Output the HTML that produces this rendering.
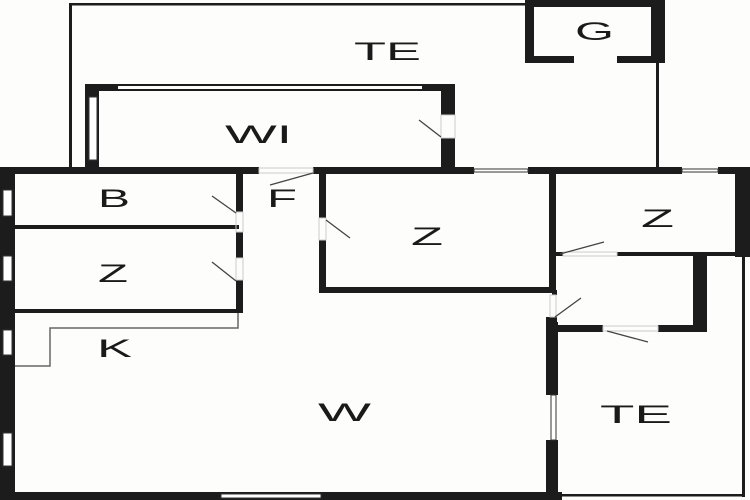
<!DOCTYPE html>
<html><head><meta charset="utf-8"><style>
html,body{margin:0;padding:0;background:#fdfdfb;}
svg{display:block;}
text{font-family:"Liberation Sans",sans-serif;font-size:25px;fill:#1a1a1a;}
</style></head><body>
<svg width="750" height="500" viewBox="0 0 750 500" xmlns="http://www.w3.org/2000/svg">
<rect width="750" height="500" fill="#fdfdfb"/>
<g fill="#1c1c1c">
<!-- outer TE thin -->
<rect x="69" y="3" width="460" height="2.5"/>
<rect x="69" y="3" width="3" height="167"/>
<rect x="656" y="60" width="3" height="110"/>
<!-- G -->
<rect x="525" y="0" width="140" height="7"/>
<rect x="525" y="0" width="9" height="62"/>
<rect x="651" y="0" width="14" height="62"/>
<rect x="525" y="56" width="49" height="7"/>
<rect x="617" y="56" width="48" height="7"/>
<!-- WI -->
<rect x="85" y="84" width="33" height="7"/>
<rect x="85" y="84" width="370" height="2"/>
<rect x="85" y="89" width="370" height="2"/>
<rect x="422" y="84" width="33" height="7"/>
<rect x="85" y="84" width="14" height="86"/>
<rect x="441" y="84" width="14" height="31"/>
<rect x="441" y="138" width="14" height="32"/>
<!-- main horizontal wall -->
<rect x="0" y="167" width="259" height="7"/>
<rect x="313" y="167" width="161" height="7"/>
<rect x="528" y="167" width="154" height="7"/>
<rect x="718" y="167" width="32" height="7"/>
<!-- left outer wall -->
<rect x="0" y="167" width="15" height="333"/>
<!-- bottom wall -->
<rect x="0" y="492" width="562" height="8"/>
<!-- right outer -->
<rect x="735" y="167" width="15" height="90"/>
<rect x="742" y="253" width="3" height="244"/>
<rect x="560" y="494" width="185" height="2.5"/>
<!-- B/Z column -->
<rect x="236" y="170" width="7" height="42"/>
<rect x="236" y="232" width="7" height="26"/>
<rect x="236" y="280" width="7" height="33"/>
<rect x="15" y="225" width="224" height="4"/>
<rect x="15" y="309" width="228" height="4"/>
<!-- middle Z -->
<rect x="319" y="170" width="7" height="48"/>
<rect x="319" y="240" width="7" height="53"/>
<rect x="319" y="287" width="237" height="6"/>
<rect x="549" y="170" width="7" height="123"/>
<!-- right section -->
<rect x="552" y="290" width="5" height="5"/>
<rect x="546" y="317" width="11" height="5"/>
<rect x="546" y="322" width="12" height="73"/>
<rect x="546" y="440" width="12" height="60"/>
<rect x="555" y="252" width="8" height="4"/>
<rect x="617" y="252" width="133" height="4"/>
<rect x="693" y="252" width="14" height="80"/>
<rect x="546" y="325" width="57" height="7"/>
<rect x="658" y="325" width="49" height="7"/>
</g>
<!-- windows (white with thin outlines) -->
<g fill="#fff" stroke="#333" stroke-width="1">
<rect x="3" y="190" width="9" height="26"/>
<rect x="3" y="256" width="9" height="25"/>
<rect x="3" y="330" width="9" height="25"/>
<rect x="3" y="433" width="9" height="33"/>
<rect x="89" y="97" width="8" height="63"/>
<rect x="221" y="494" width="100" height="4"/>
<rect x="551" y="395" width="5" height="45"/>
<rect x="474" y="169" width="54" height="3"/>
<rect x="682" y="169" width="36" height="3"/>
</g>
<g fill="none" stroke="#ccc" stroke-width="1">
<rect x="259" y="168" width="54" height="5"/>
<rect x="563" y="252" width="54" height="4"/>
<rect x="603" y="326" width="55" height="5"/>
<rect x="550" y="295" width="6" height="22"/>
<rect x="319" y="218" width="7" height="22"/>
<rect x="236" y="212" width="7" height="20"/>
<rect x="236" y="258" width="7" height="22"/>
<rect x="441" y="115" width="14" height="23"/>
</g>
<!-- door swing lines -->
<g stroke="#444" stroke-width="1.3">
<line x1="270" y1="185" x2="313" y2="173"/>
<line x1="212" y1="196" x2="236" y2="213"/>
<line x1="212" y1="262" x2="236" y2="281"/>
<line x1="326" y1="220" x2="350" y2="238"/>
<line x1="419" y1="120" x2="441" y2="137"/>
<line x1="560" y1="254" x2="604" y2="242"/>
<line x1="555" y1="317" x2="581" y2="298"/>
<line x1="607" y1="331" x2="648" y2="342"/>
</g>
<!-- K counter -->
<polyline points="238,313 238,328 50,328 50,366 15,366" fill="none" stroke="#666" stroke-width="1.5"/>
<!-- labels -->
<text x="354" y="60" textLength="67" lengthAdjust="spacingAndGlyphs">TE</text>
<text x="575" y="40" textLength="39" lengthAdjust="spacingAndGlyphs">G</text>
<text x="225" y="143" textLength="67" lengthAdjust="spacingAndGlyphs">WI</text>
<text x="98" y="207" textLength="32" lengthAdjust="spacingAndGlyphs">B</text>
<text x="267" y="207" textLength="30" lengthAdjust="spacingAndGlyphs">F</text>
<text x="411" y="245" textLength="32" lengthAdjust="spacingAndGlyphs">Z</text>
<text x="641" y="227" textLength="33" lengthAdjust="spacingAndGlyphs">Z</text>
<text x="98" y="282" textLength="30" lengthAdjust="spacingAndGlyphs">Z</text>
<text x="97" y="357" textLength="35" lengthAdjust="spacingAndGlyphs">K</text>
<text x="318" y="421" textLength="53" lengthAdjust="spacingAndGlyphs">W</text>
<text x="600" y="423" textLength="72" lengthAdjust="spacingAndGlyphs">TE</text>
</svg>
</body></html>
